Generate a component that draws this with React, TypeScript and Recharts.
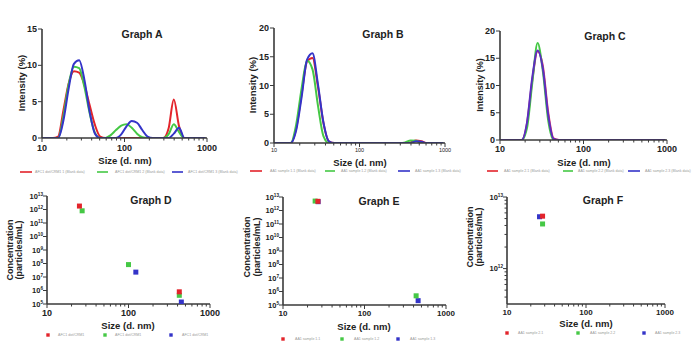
import React from 'react';
import { LineChart, Line, XAxis, YAxis, ScatterChart, Scatter } from 'recharts';

const FONT = '"Liberation Sans", Arial, sans-serif';
const AXIS = '#3a3a3a';
const RED = '#e3242b';
const GREEN = '#45c845';
const BLUE = '#3434c8';

// DLS size bins (nm)
const SIZES = [10.1, 11.7, 13.54, 15.69, 18.17, 21.04, 24.36, 28.21, 32.67, 37.84, 43.82, 50.75, 58.77, 68.06, 78.82, 91.28, 105.7, 122.4, 141.8, 164.2, 190.1, 220.2, 255.0, 295.3, 342.0, 396.1, 458.7, 531.2, 615.1, 712.4, 825.0, 955.4];

// Graph A intensities (%)
const A_RED = [0, 0, 0, 0.2, 3.8, 7.5, 9.2, 9.0, 7.3, 4.5, 1.8, 0.2, 0, 0, 0, 0, 0, 0, 0, 0, 0, 0, 0, 0, 1.3, 5.3, 1.6, 0, 0, 0, 0, 0];
const A_GREEN = [0, 0, 0, 0, 3.0, 7.4, 9.8, 9.6, 7.0, 3.4, 0.7, 0, 0, 0.4, 1.1, 1.7, 1.9, 1.4, 0.6, 0.1, 0, 0, 0, 0, 0.5, 1.9, 0.8, 0, 0, 0, 0, 0];
const A_BLUE = [0, 0, 0, 0, 2.4, 6.8, 10.2, 10.7, 8.0, 3.6, 0.6, 0, 0, 0, 0, 0.5, 1.6, 2.35, 2.1, 1.1, 0.2, 0, 0, 0, 0, 0.6, 1.4, 0, 0, 0, 0, 0];

// Graph B intensities (%)
const B_RED = [0, 0, 0, 0, 2.5, 8.5, 14.2, 14.8, 9.8, 3.5, 0.3, 0, 0, 0, 0, 0, 0, 0, 0, 0, 0, 0, 0, 0, 0, 0.1, 0.45, 0.3, 0, 0, 0, 0];
const B_GREEN = [0, 0, 0, 0, 3.2, 9.5, 14.3, 12.8, 6.5, 1.2, 0, 0, 0, 0, 0, 0, 0, 0, 0, 0, 0, 0, 0, 0, 0.1, 0.45, 0.4, 0, 0, 0, 0, 0];
const B_BLUE = [0, 0, 0, 0, 2.2, 8.0, 14.5, 15.6, 10.2, 3.6, 0.3, 0, 0, 0, 0, 0, 0, 0, 0, 0, 0, 0, 0, 0, 0, 0, 0.3, 0.2, 0, 0, 0, 0];

// Graph C intensities (%)
const C_RED = [0, 0, 0, 0, 0, 3.0, 11.0, 16.3, 13.5, 5.0, 0.3, 0, 0, 0, 0, 0, 0, 0, 0, 0, 0, 0, 0, 0, 0, 0, 0, 0, 0, 0, 0, 0];
const C_GREEN = [0, 0, 0, 0, 0, 2.2, 10.5, 17.8, 12.5, 3.5, 0, 0, 0, 0, 0, 0, 0, 0, 0, 0, 0, 0, 0, 0, 0, 0, 0, 0, 0, 0, 0, 0];
const C_BLUE = [0, 0, 0, 0, 0, 3.2, 11.5, 16.4, 13.0, 4.5, 0.2, 0, 0, 0, 0, 0, 0, 0, 0, 0, 0, 0, 0, 0, 0, 0, 0, 0, 0, 0, 0, 0];

// Graph D concentrations
const D_RED_X = [25, 420];
const D_RED_Y = [1.8e12, 8e5];
const D_GREEN_X = [27, 100, 420];
const D_GREEN_Y = [8e11, 8.3e7, 4.4e5];
const D_BLUE_X = [123, 445];
const D_BLUE_Y = [2.3e7, 1.4e5];

// Graph E concentrations
const E_RED_X = [26.8];
const E_RED_Y = [4.8e12];
const E_GREEN_X = [24.8, 430];
const E_GREEN_Y = [5e12, 4.8e5];
const E_BLUE_X = [27, 455];
const E_BLUE_Y = [4.5e12, 2.1e5];

// Graph F concentrations
const F_RED_X = [28.2];
const F_RED_Y = [5.4e12];
const F_GREEN_X = [28.2];
const F_GREEN_Y = [4.2e12];
const F_BLUE_X = [25.8];
const F_BLUE_Y = [5.3e12];

// Ticks
const X_TICKS = [10, 20, 30, 40, 50, 60, 70, 80, 90, 100, 200, 300, 400, 500, 600, 700, 800, 900, 1000];
const X_MAJOR = [10, 100, 1000];
const A_Y_TICKS = [0, 5, 10, 15];
const BC_Y_TICKS = [0, 5, 10, 15, 20];
const DE_Y_TICKS = [1e5, 1e6, 1e7, 1e8, 1e9, 1e10, 1e11, 1e12, 1e13];
const F_Y_TICKS = [4e11, 5e11, 6e11, 7e11, 8e11, 9e11, 1e12, 2e12, 3e12, 4e12, 5e12, 6e12, 7e12, 8e12, 9e12, 1e13];
const F_Y_MAJOR = [1e12, 1e13];

// Legends
const A_LEGEND = ['AFC1 dot/CRM1 1 (Blank data)', 'AFC1 dot/CRM1 2 (Blank data)', 'AFC1 dot/CRM1 3 (Blank data)'];
const B_LEGEND = ['AA1 sample 1.1 (Blank data)', 'AA1 sample 1.2 (Blank data)', 'AA1 sample 1.3 (Blank data)'];
const C_LEGEND = ['AA1 sample 2.1 (Blank data)', 'AA1 sample 2.2 (Blank data)', 'AA1 sample 2.3 (Blank data)'];
const D_LEGEND = ['AFC1 dot/CRM1', 'AFC1 dot/CRM1', 'AFC1 dot/CRM1'];
const E_LEGEND = ['AA1 sample 1.1', 'AA1 sample 1.2', 'AA1 sample 1.3'];
const F_LEGEND = ['AA1 sample 2.1', 'AA1 sample 2.2', 'AA1 sample 2.3'];

const L = 44, T = 8, R = 12, B = 24;

function makeXTick(fs: number, bold: boolean, off: number) {
  return (p: any) => {
    const v = p.payload.value;
    const major = X_MAJOR.includes(v);
    return (
      <g>
        <line x1={p.x} x2={p.x} y1={p.y} y2={p.y + (major ? 4 : 2.5)} stroke={AXIS} strokeWidth={1} />
        {major && (
          <text x={p.x} y={p.y + off} textAnchor="middle" fontSize={fs} fontWeight={bold ? 700 : 400} fontFamily={FONT} fill="#222">
            {v}
          </text>
        )}
      </g>
    );
  };
}

function makeYLinTick(fs: number) {
  return (p: any) => (
    <g>
      <line x1={p.x - 4} x2={p.x} y1={p.y} y2={p.y} stroke={AXIS} strokeWidth={1} />
      <text x={p.x - 5} y={p.y} dy="0.35em" textAnchor="end" fontSize={fs} fontWeight={700} fontFamily={FONT} fill="#222">
        {p.payload.value}
      </text>
    </g>
  );
}

function makeYLogTick(fs: number, majors: number[] | null) {
  return (p: any) => {
    const v = p.payload.value;
    const major = majors ? majors.includes(v) : true;
    const e = Math.round(Math.log10(v));
    return (
      <g>
        <line x1={p.x - (major ? 4 : 2.5)} x2={p.x} y1={p.y} y2={p.y} stroke={AXIS} strokeWidth={1} />
        {major && (
          <text x={p.x - 4} y={p.y} dy="0.35em" textAnchor="end" fontSize={fs} fontWeight={700} fontFamily={FONT} fill="#222">
            <tspan>10</tspan>
            <tspan dy={-3} fontSize={fs * 0.62}>{e}</tspan>
          </text>
        )}
      </g>
    );
  };
}

type LineProps = {
  left: number; top: number; w: number; h: number; yMax: number; yTicks: number[];
  series: number[][]; xTick: any; colors: string[];
};

function LinePanel({ left, top, w, h, yMax, yTicks, series, xTick, colors }: LineProps) {
  const data = SIZES.map((s, i) => ({ size: s, s0: series[0][i], s1: series[1][i], s2: series[2][i] }));
  return (
    <div style={{ position: 'absolute', left: left - L, top: top - T }}>
      <LineChart width={w + L + R} height={h + T + B} data={data} margin={{ top: T, right: R, left: 0, bottom: 0 }}>
        <XAxis dataKey="size" type="number" scale="log" domain={[10, 1000]} allowDataOverflow ticks={X_TICKS} interval={0}
          tickSize={0} tickMargin={0} height={B} tickLine={false} axisLine={{ stroke: AXIS, strokeWidth: 1.6 }} tick={xTick} />
        <YAxis type="number" domain={[0, yMax]} allowDataOverflow ticks={yTicks} interval={0} width={L}
          tickSize={0} tickMargin={0} tickLine={false} axisLine={{ stroke: AXIS, strokeWidth: 1.6 }} tick={makeYLinTick(9)} />
        {[0, 1, 2].map((k) => (
          <Line key={k} dataKey={`s${k}`} type="monotone" stroke={colors[k]} strokeWidth={2} dot={false} isAnimationActive={false} />
        ))}
      </LineChart>
    </div>
  );
}

const square = (c: string) => (p: any) => <rect x={p.cx - 2.5} y={p.cy - 2.5} width={5} height={5} fill={c} />;

type ScatProps = {
  left: number; top: number; w: number; h: number; yDomain: number[]; yTicks: number[]; yTick: any; xTick: any;
  xs: number[][]; ys: number[][];
};

function ScatterPanel({ left, top, w, h, yDomain, yTicks, yTick, xTick, xs, ys }: ScatProps) {
  const colors = [RED, GREEN, BLUE];
  return (
    <div style={{ position: 'absolute', left: left - L, top: top - T }}>
      <ScatterChart width={w + L + R} height={h + T + B} margin={{ top: T, right: R, left: 0, bottom: 0 }}>
        <XAxis dataKey="x" type="number" scale="log" domain={[10, 1000]} allowDataOverflow ticks={X_TICKS} interval={0}
          tickSize={0} tickMargin={0} height={B} tickLine={false} axisLine={{ stroke: AXIS, strokeWidth: 1.6 }} tick={xTick} />
        <YAxis dataKey="y" type="number" scale="log" domain={yDomain} allowDataOverflow ticks={yTicks} interval={0} width={L}
          tickSize={0} tickMargin={0} tickLine={false} axisLine={{ stroke: AXIS, strokeWidth: 1.6 }} tick={yTick} />
        {[2, 1, 0].map((k) => (
          <Scatter key={k} data={xs[k].map((x, i) => ({ x, y: ys[k][i] }))} shape={square(colors[k])} isAnimationActive={false} />
        ))}
      </ScatterChart>
    </div>
  );
}

const T9 = (x: number, y: number, s: string, fs = 9.5, rot = false) => (
  <text x={x} y={y} textAnchor="middle" dominantBaseline="central" fontSize={fs} fontWeight={700} fontFamily={FONT} fill="#222"
    transform={rot ? `rotate(-90 ${x} ${y})` : undefined}>{s}</text>
);

function LineLegend({ y, items, labels }: { y: number; items: number[][]; labels: string[] }) {
  const colors = [RED, GREEN, BLUE];
  return (
    <g>
      {items.map((it, k) => (
        <g key={k}>
          <line x1={it[0]} x2={it[1]} y1={y} y2={y} stroke={colors[k]} strokeWidth={1.6} />
          <text x={it[2]} y={y} dominantBaseline="central" fontSize={3.6} fontFamily={FONT} fill="#9a9a9a">{labels[k]}</text>
        </g>
      ))}
    </g>
  );
}

function SqLegend({ y, items, labels }: { y: number; items: number[][]; labels: string[] }) {
  const colors = [RED, GREEN, BLUE];
  return (
    <g>
      {items.map((it, k) => (
        <g key={k}>
          <rect x={it[0] - 1.7} y={y - 1.7} width={3.4} height={3.4} fill={colors[k]} />
          <text x={it[1]} y={y} dominantBaseline="central" fontSize={3.6} fontFamily={FONT} fill="#9a9a9a">{labels[k]}</text>
        </g>
      ))}
    </g>
  );
}

export default function App() {
  const cols = [RED, GREEN, BLUE];
  return (
    <div style={{ position: 'absolute', left: 0, top: 0, width: 700, height: 351, background: '#fff', overflow: 'hidden' }}>
      <LinePanel left={42} top={29} w={165} h={109} yMax={15} yTicks={A_Y_TICKS} series={[A_RED, A_GREEN, A_BLUE]}
        xTick={makeXTick(9, true, 13)} colors={cols} />
      <LinePanel left={274} top={28} w={171} h={115} yMax={20} yTicks={BC_Y_TICKS} series={[B_RED, B_GREEN, B_BLUE]}
        xTick={makeXTick(5.5, false, 9)} colors={cols} />
      <LinePanel left={500} top={31} w={167} h={109} yMax={20} yTicks={BC_Y_TICKS} series={[C_RED, C_GREEN, C_BLUE]}
        xTick={makeXTick(9, true, 12)} colors={['#e2336a', GREEN, '#5a2fc0']} />
      <ScatterPanel left={47} top={196} w={163} h={108} yDomain={[1e5, 1e13]} yTicks={DE_Y_TICKS}
        yTick={makeYLogTick(7.5, null)} xTick={makeXTick(9, true, 12)}
        xs={[D_RED_X, D_GREEN_X, D_BLUE_X]} ys={[D_RED_Y, D_GREEN_Y, D_BLUE_Y]} />
      <ScatterPanel left={283} top={197} w={163} h={108} yDomain={[1e5, 1e13]} yTicks={DE_Y_TICKS}
        yTick={makeYLogTick(7.5, null)} xTick={makeXTick(8, true, 11)}
        xs={[E_RED_X, E_GREEN_X, E_BLUE_X]} ys={[E_RED_Y, E_GREEN_Y, E_BLUE_Y]} />
      <ScatterPanel left={507} top={197} w={158} h={107} yDomain={[3.2e11, 1e13]} yTicks={F_Y_TICKS}
        yTick={makeYLogTick(7.5, F_Y_MAJOR)} xTick={makeXTick(8, true, 11)}
        xs={[F_RED_X, F_GREEN_X, F_BLUE_X]} ys={[F_RED_Y, F_GREEN_Y, F_BLUE_Y]} />
      <svg width={700} height={351} style={{ position: 'absolute', left: 0, top: 0, pointerEvents: 'none' }}>
        {T9(142, 34, 'Graph A', 10.5)}
        {T9(383, 34, 'Graph B', 10.5)}
        {T9(605, 36, 'Graph C', 10.5)}
        {T9(151, 200, 'Graph D', 10.5)}
        {T9(379, 201, 'Graph E', 10.5)}
        {T9(603, 200, 'Graph F', 10.5)}
        {T9(21, 83, 'Intensity (%)', 9.5, true)}
        {T9(252, 85, 'Intensity (%)', 9.5, true)}
        {T9(480, 85, 'Intensity (%)', 9, true)}
        {T9(125, 160, 'Size (d. nm)', 9.5)}
        {T9(360, 162, 'Size (d. nm)', 9.5)}
        {T9(584, 162, 'Size (d. nm)', 9.5)}
        {T9(128, 325, 'Size (d. nm)', 9.5)}
        {T9(364, 326, 'Size (d. nm)', 9.5)}
        {T9(586, 323, 'Size (d. nm)', 9.5)}
        {T9(10, 250, 'Concentration', 9, true)}
        {T9(19, 250, '(particles/mL)', 9, true)}
        {T9(247, 247, 'Concentration', 9, true)}
        {T9(257, 247, '(particles/mL)', 9, true)}
        {T9(470, 237, 'Concentration', 9, true)}
        {T9(479, 237, '(particles/mL)', 9, true)}
        <LineLegend y={172} labels={A_LEGEND} items={[[20, 32, 35], [97, 108, 115], [172, 183, 188]]} />
        <LineLegend y={171} labels={B_LEGEND} items={[[250, 262, 270], [325, 335, 341], [398, 410, 415]]} />
        <LineLegend y={171} labels={C_LEGEND} items={[[487, 498, 504], [563, 573, 578], [628, 640, 645]]} />
        <SqLegend y={335} labels={D_LEGEND} items={[[48, 58], [105, 115], [171, 182]]} />
        <SqLegend y={339} labels={E_LEGEND} items={[[283, 295], [342, 354], [398, 410]]} />
        <SqLegend y={333} labels={F_LEGEND} items={[[507, 518], [578, 590], [644, 655]]} />
      </svg>
    </div>
  );
}
